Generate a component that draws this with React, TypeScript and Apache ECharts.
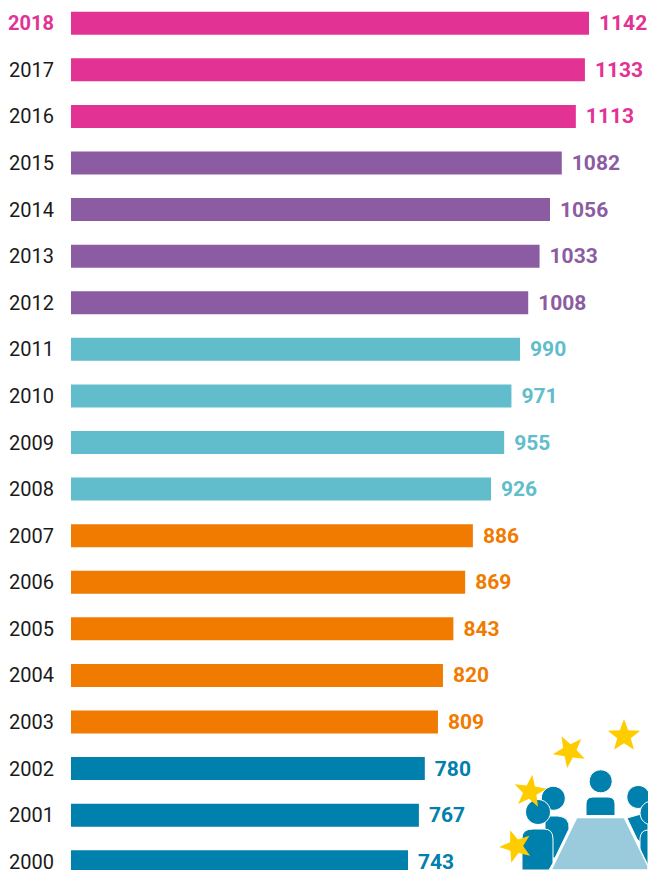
import React, { useEffect, useRef } from "react";
import * as echarts from "echarts";

const years = ["2018","2017","2016","2015","2014","2013","2012","2011","2010","2009","2008","2007","2006","2005","2004","2003","2002","2001","2000"];
const counts = [1142,1133,1113,1082,1056,1033,1008,990,971,955,926,886,869,843,820,809,780,767,743];
const barColors = ["#E23395","#E23395","#E23395","#8B5CA2","#8B5CA2","#8B5CA2","#8B5CA2","#61BDCC","#61BDCC","#61BDCC","#61BDCC","#F07B00","#F07B00","#F07B00","#F07B00","#F07B00","#0080AD","#0080AD","#0080AD"];

const BLUE = "#0080AD";
const TABLE = "#9ACBDC";
const YELLOW = "#FFCC00";

const bodies: Record<string, string> = {
  bodyCentre: "M586 815.5L586 804Q586 797 593 797L608 797Q615 797 615 804L615 815.5Z",
  bodyRearLeft: "M545 816L558 816Q570 817 569 829L555 858L545 858Z",
  bodyFrontLeft: "M522 870L522 838Q522 829 533 829L544 829Q553 829 553 839L553 863L549 870Z",
  bodyRearRight: "M627 818L648 812L648 850L637 839Z",
  bodyFrontRight: "M640 870L640 838Q641 830 648 830L648 870Z",
};
Object.keys(bodies).forEach((name) => {
  echarts.graphic.registerShape(name, echarts.graphic.extendPath(bodies[name], {}) as any);
});

function star(cx: number, cy: number, r: number, rotDeg: number) {
  const pts: number[][] = [];
  for (let i = 0; i < 10; i++) {
    const rad = i % 2 === 0 ? r : r * 0.42;
    const a = ((rotDeg + i * 36 - 90) * Math.PI) / 180;
    pts.push([cx + rad * Math.cos(a), cy + rad * Math.sin(a)]);
  }
  return { type: "polygon", shape: { points: pts }, style: { fill: YELLOW }, z: 20 };
}

const person = (type: string) => ({ type, x: 0, y: 0, style: { fill: BLUE, stroke: "#fff", lineWidth: 1 }, z: 10 });
const head = (cx: number, cy: number, r: number) => ({
  type: "circle",
  shape: { cx, cy, r },
  style: { fill: BLUE, stroke: "#fff", lineWidth: 1 },
  z: 10,
});

export default function App() {
  const ref = useRef<HTMLDivElement>(null);
  useEffect(() => {
    const chart = echarts.init(ref.current!, undefined, { renderer: "svg" });
    chart.setOption({
      animation: false,
      backgroundColor: "#fff",
      grid: { left: 71, top: 0, width: 518, height: 885, containLabel: false },
      xAxis: { type: "value", min: 0, max: 1142, show: false },
      yAxis: {
        type: "category",
        inverse: true,
        data: years,
        axisLine: { show: false },
        axisTick: { show: false },
        splitLine: { show: false },
        axisLabel: {
          margin: 17,
          align: "right",
          formatter: (v: string, i: number) => (i === 0 ? `{hi|${v}}` : `{n|${v}}`),
          rich: {
            hi: { fontFamily: "Roboto", fontSize: 20, lineHeight: 16, fontWeight: "bold", color: "#E23395" },
            n: { fontFamily: "Roboto", fontSize: 20, lineHeight: 16, color: "#1a1a1a" },
          },
        },
      },
      series: [
        {
          type: "bar",
          barWidth: 23,
          data: counts.map((value, i) => ({
            value,
            itemStyle: { color: barColors[i] },
            label: { color: barColors[i] },
          })),
          label: {
            show: true,
            position: "right",
            distance: 10,
            fontFamily: "Roboto",
            fontWeight: "bold",
            fontSize: 21,
            lineHeight: 16,
          },
        },
      ],
      graphic: [
        person("bodyRearLeft"),
        head(553.3, 798.3, 12),
        person("bodyRearRight"),
        head(638.3, 797, 11.5),
        head(600.7, 781.3, 11.5),
        person("bodyCentre"),
        head(538, 812, 12.5),
        person("bodyFrontLeft"),
        head(652, 813, 12),
        person("bodyFrontRight"),
        {
          type: "polygon",
          shape: { points: [[576.7, 817.5], [624.3, 817.5], [648, 866], [648, 870], [551, 870]] },
          style: { fill: TABLE, stroke: "#fff", lineWidth: 1.5 },
          z: 15,
        },
        star(624, 736, 17, 0),
        star(569.5, 751.2, 17, -28),
        star(530, 791.7, 17, 8),
        star(516, 846.3, 17, -20),
      ],
    });
    return () => chart.dispose();
  }, []);
  return (
    <div style={{ position: "fixed", left: 0, top: 0, width: 648, height: 870, overflow: "hidden" }}>
      <div ref={ref} style={{ width: 648, height: 890 }} />
    </div>
  );
}
